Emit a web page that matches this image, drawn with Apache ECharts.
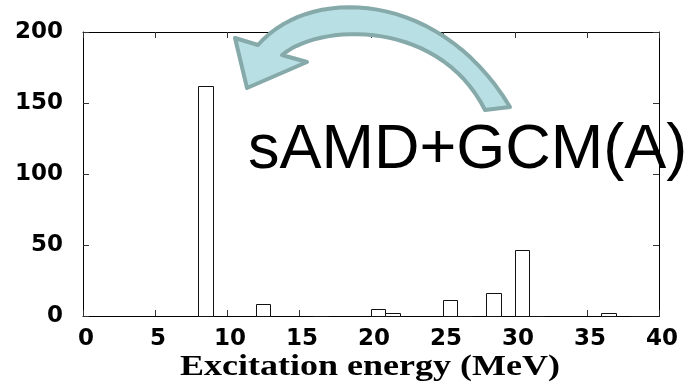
<!DOCTYPE html>
<html><head><meta charset="utf-8">
<script src="https://cdn.jsdelivr.net/npm/echarts@6/dist/echarts.min.js"></script>
<style>html,body{margin:0;padding:0;background:#fff}#c{width:691px;height:390px}</style>
</head><body><div id="c"></div>
<script>
// Histogram bins (1 MeV wide), start energy and strength
const binStart  = [8, 12, 16, 20, 21, 25, 26, 28, 30, 31, 36, 38, 39];
const binHeight = [162, 8.5, 0.3, 4.6, 2.4, 11.3, 0.3, 16.2, 46.5, 0.3, 1.9, 0.3, 0.3];
const binWidth = 1;
const xTickLabels = ['0','5','10','15','20','25','30','35','40'];
const yTickLabels = ['0','50','100','150','200'];
const xTitle = 'Excitation energy (MeV)';
const annotation = 'sAMD+GCM(A)';

const data = binStart.map((s, i) => [s, binHeight[i]]);

// arrow outline (decoration)
function bez(p0, p1, p2, p3, n) {
  const pts = [];
  for (let i = 0; i <= n; i++) {
    const t = i / n, u = 1 - t;
    pts.push([
      u*u*u*p0[0] + 3*u*u*t*p1[0] + 3*u*t*t*p2[0] + t*t*t*p3[0],
      u*u*u*p0[1] + 3*u*u*t*p1[1] + 3*u*t*t*p2[1] + t*t*t*p3[1]
    ]);
  }
  return pts;
}
const arrowPts = [].concat(
  [[258,45],[235,38],[247,88],[307,62]],
  bez([282,55],[322,22],[440,20],[485,110],30),
  bez([510,107],[440,-10],[310,-15],[258,45],30)
);

const chart = echarts.init(document.getElementById('c'), null, {renderer:'canvas'});
const axisCommon = {
  type: 'value',
  axisLine: {show: true, onZero: false, lineStyle: {color: '#000', width: 1}},
  axisTick: {show: true, inside: true, length: 6, lineStyle: {color: '#333', width: 1}},
  splitLine: {show: false}
};
const labelStyle = {fontFamily: 'DejaVu Sans', fontWeight: 'bold', fontSize: 23, color: '#000'};
chart.setOption({
  animation: false,
  backgroundColor: '#fff',
  grid: {left: 83, right: 32, top: 32, bottom: 74, containLabel: false, outerBoundsMode: 'none'},
  xAxis: [
    Object.assign({}, axisCommon, {position: 'bottom', min: 0, max: 40, interval: 5,
      axisLabel: Object.assign({}, labelStyle, {margin: 12, padding: [0,0,0,6],
        formatter: v => xTickLabels[Math.round(v / 5)]})}),
    Object.assign({}, axisCommon, {position: 'top', min: 0, max: 40, interval: 5, axisLabel: {show: false}})
  ],
  yAxis: [
    Object.assign({}, axisCommon, {position: 'left', min: 0, max: 200, interval: 50,
      axisLabel: Object.assign({}, labelStyle, {margin: 20,
        formatter: v => yTickLabels[Math.round(v / 50)]})}),
    Object.assign({}, axisCommon, {position: 'right', min: 0, max: 200, interval: 50, axisLabel: {show: false}})
  ],
  series: [{
    type: 'custom',
    xAxisIndex: 0, yAxisIndex: 0,
    data: data,
    renderItem: function (params, api) {
      const x0 = api.value(0), h = api.value(1);
      const p0 = api.coord([x0, h]);
      const p1 = api.coord([x0 + binWidth, 0]);
      return {type: 'rect',
        shape: {x: Math.round(p0[0]) + 0.5, y: Math.round(p0[1]) + 0.5,
                width: Math.round(p1[0]) - Math.round(p0[0]), height: Math.round(p1[1]) - Math.round(p0[1])},
        style: {fill: '#fff', stroke: '#111', lineWidth: 1}};
    }
  }],
  graphic: [
    {type: 'text', x: 248, y: 151, z: 5,
     style: {text: annotation, x: 0, y: 0, fontFamily: 'Liberation Sans', fontSize: 63, fill: '#000', verticalAlign: 'middle', align: 'left'}},
    {type: 'polygon', z: 50, shape: {points: arrowPts},
     style: {fill: '#b8dfe3', stroke: '#86a9aa', lineWidth: 4, lineJoin: 'round'}},
    {type: 'text', x: 370, y: 367, scaleX: 1.2, z: 5,
     style: {text: xTitle, x: 0, y: 0, fontFamily: 'Liberation Serif', fontWeight: 'bold', fontSize: 30, fill: '#000', align: 'center', verticalAlign: 'middle'}}
  ]
});
</script></body></html>
